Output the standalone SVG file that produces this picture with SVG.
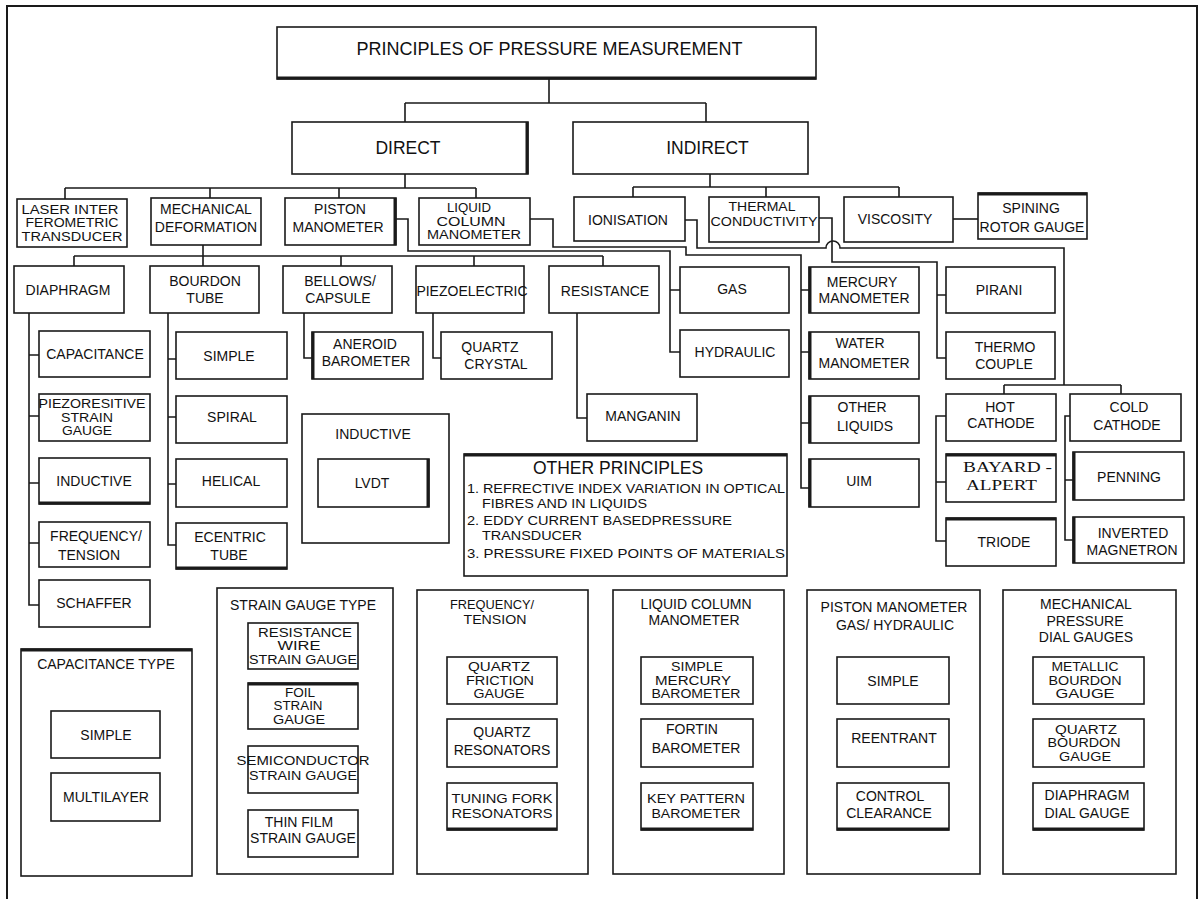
<svg xmlns="http://www.w3.org/2000/svg" width="1199" height="899" viewBox="0 0 1199 899">
<style>
.b{fill:#fff;stroke:#1a1a1a;stroke-width:1.6}
.c{fill:none;stroke:#1a1a1a;stroke-width:1.6}
.k{fill:none;stroke:#1a1a1a;stroke-width:3}
text{font-family:"Liberation Sans",Arial,sans-serif;font-size:14px;fill:#111;text-anchor:middle}
.big{font-size:18px}
.mid{font-size:17.5px}
.s{font-size:12px}
.m{font-size:13px}
.ser{font-family:"Liberation Serif","Times New Roman",serif;font-size:15.5px;text-anchor:start}
.l{text-anchor:start}
</style>
<rect x="0" y="0" width="1199" height="899" fill="#fff"/>
<rect x="7" y="6" width="1190" height="900" fill="none" stroke="#1a1a1a" stroke-width="2"/>

<g id="connectors">
<path class="c" d="M549,79V103M405,103H706M405,103V122M706,103V122"/>
<path class="c" d="M405,174V188M65,188H476M65,188V199M210,188V198M339,188V198M476,188V198"/>
<path class="c" d="M710,174V187M633,187H899M633,187V197M766,187V197M899,187V197"/>
<path class="c" d="M953,219H978"/>
<path class="c" d="M203,245V256M74,256H603M74,256V266M203,256V266M341,256V266M474,256V266M603,256V266"/>
<path class="c" d="M396,219H408V251H670V352H680M670,290H680"/>
<path class="c" d="M530,219H553V247H686V255H801V488H809M801,290H809M801,352H809M801,423H809"/>
<path class="c" d="M685,220H697V248H826A7,7 0 0 1 840,248H1064V385M1004,385H1121M1004,385V394M1121,385V394"/>
<path class="c" d="M819,218H832V262H937V358H946M937,295H946"/>
<path class="c" d="M29,313V605H39M29,355H39M29,416H39M29,483H39M29,543H39"/>
<path class="c" d="M168,313V545H176M168,359H176M168,417H176M168,484H176"/>
<path class="c" d="M304,313V358H312"/>
<path class="c" d="M433,313V358H441"/>
<path class="c" d="M577,313V418H587"/>
<path class="c" d="M946,416H936V541H946M936,482H946"/>
<path class="c" d="M1070,416H1065V540H1073M1065,480H1073"/>
</g>

<g id="n-title"><rect class="b" x="277" y="27" width="539" height="52"/><path class="k" d="M277,78H816"/><text class="big" x="549.5" y="55">PRINCIPLES OF PRESSURE MEASUREMENT</text></g>
<g id="n-direct"><rect class="b" x="292" y="122" width="236" height="52"/><path class="k" d="M527,122V174"/><text class="mid" x="408" y="154">DIRECT</text></g>
<g id="n-indirect"><rect class="b" x="573" y="122" width="235" height="52"/><text class="mid" x="707.5" y="154">INDIRECT</text></g>

<g id="n-laser"><rect class="b" x="17" y="199" width="110" height="48"/>
<text class="s" x="70" y="213.8" textLength="97" lengthAdjust="spacingAndGlyphs">LASER INTER</text>
<text class="s" x="72" y="227.3" textLength="93" lengthAdjust="spacingAndGlyphs">FEROMETRIC</text>
<text class="s" x="72" y="240.8" textLength="101" lengthAdjust="spacingAndGlyphs">TRANSDUCER</text></g>
<g id="n-mech"><rect class="b" x="151" y="198" width="110" height="47"/><text><tspan x="206" y="214">MECHANICAL</tspan><tspan x="206" y="232">DEFORMATION</tspan></text></g>
<g id="n-piston"><rect class="b" x="285" y="198" width="111" height="47"/><path class="k" d="M395,198V245"/><text><tspan x="340" y="214">PISTON</tspan><tspan x="338" y="232">MANOMETER</tspan></text></g>
<g id="n-liquid"><rect class="b" x="419" y="198" width="111" height="47"/>
<text class="s" x="469" y="212.3" textLength="44" lengthAdjust="spacingAndGlyphs">LIQUID</text>
<text class="s" x="471" y="225.8" textLength="69" lengthAdjust="spacingAndGlyphs">COLUMN</text>
<text class="s" x="474" y="239.3" textLength="94" lengthAdjust="spacingAndGlyphs">MANOMETER</text></g>
<g id="n-ionisation"><rect class="b" x="574" y="197" width="111" height="44"/><text x="628" y="225">IONISATION</text></g>
<g id="n-thermal"><rect class="b" x="709" y="197" width="110" height="45"/>
<text class="m" x="762" y="211.2" textLength="67" lengthAdjust="spacingAndGlyphs">THERMAL</text>
<text class="m" x="764" y="225.7" textLength="107" lengthAdjust="spacingAndGlyphs">CONDUCTIVITY</text></g>
<g id="n-viscosity"><rect class="b" x="844" y="197" width="109" height="45"/><text x="895" y="224">VISCOSITY</text></g>
<g id="n-spining"><rect class="b" x="978" y="193" width="109" height="46"/><path class="k" d="M978,194H1087"/><text><tspan x="1031" y="213">SPINING</tspan><tspan x="1032" y="232">ROTOR GAUGE</tspan></text></g>

<g id="n-diaphragm"><rect class="b" x="14" y="266" width="110" height="47"/><text x="68" y="295">DIAPHRAGM</text></g>
<g id="n-bourdon"><rect class="b" x="150" y="266" width="109" height="47"/><text><tspan x="205" y="286">BOURDON</tspan><tspan x="205" y="303">TUBE</tspan></text></g>
<g id="n-bellows"><rect class="b" x="283" y="266" width="109" height="47"/><text><tspan x="340" y="286">BELLOWS/</tspan><tspan x="338" y="303">CAPSULE</tspan></text></g>
<g id="n-piezo"><rect class="b" x="416" y="266" width="108" height="47"/><text x="472" y="296">PIEZOELECTRIC</text></g>
<g id="n-resistance"><rect class="b" x="549" y="266" width="110" height="47"/><text x="605" y="296">RESISTANCE</text></g>
<g id="n-gas"><rect class="b" x="680" y="267" width="109" height="46"/><text x="732" y="294">GAS</text></g>
<g id="n-mercury"><rect class="b" x="809" y="267" width="110" height="46"/><path class="k" d="M810,267V313"/><text><tspan x="862" y="287">MERCURY</tspan><tspan x="864" y="303">MANOMETER</tspan></text></g>
<g id="n-pirani"><rect class="b" x="946" y="267" width="109" height="46"/><text x="999" y="295">PIRANI</text></g>

<g id="n-capacitance"><rect class="b" x="39" y="331" width="111" height="46"/><text x="95" y="359">CAPACITANCE</text></g>
<g id="n-piezores"><rect class="b" x="39" y="394" width="111" height="47"/>
<text class="s" x="92" y="408.3" textLength="107" lengthAdjust="spacingAndGlyphs">PIEZORESITIVE</text>
<text class="s" x="87" y="421.8" textLength="52" lengthAdjust="spacingAndGlyphs">STRAIN</text>
<text class="s" x="87" y="435.3" textLength="50" lengthAdjust="spacingAndGlyphs">GAUGE</text></g>
<g id="n-inductive"><rect class="b" x="39" y="458" width="111" height="46"/><path class="k" d="M39,503H150"/><text x="94" y="486">INDUCTIVE</text></g>
<g id="n-frequency"><rect class="b" x="39" y="522" width="111" height="45"/><text><tspan x="96" y="541">FREQUENCY/</tspan><tspan x="89" y="560">TENSION</tspan></text></g>
<g id="n-schaffer"><rect class="b" x="39" y="580" width="111" height="47"/><text x="94" y="608">SCHAFFER</text></g>

<g id="n-simple"><rect class="b" x="176" y="332" width="111" height="47"/><text x="229" y="361">SIMPLE</text></g>
<g id="n-spiral"><rect class="b" x="176" y="396" width="111" height="47"/><text x="232" y="422">SPIRAL</text></g>
<g id="n-helical"><rect class="b" x="176" y="459" width="111" height="48"/><text x="231" y="486">HELICAL</text></g>
<g id="n-ecentric"><rect class="b" x="176" y="523" width="111" height="46"/><path class="k" d="M176,568H287"/><text><tspan x="230" y="542">ECENTRIC</tspan><tspan x="229" y="560">TUBE</tspan></text></g>
<g id="n-aneroid"><rect class="b" x="312" y="332" width="111" height="47"/><path class="k" d="M313,332V379"/><text><tspan x="365" y="349">ANEROID</tspan><tspan x="366" y="366">BAROMETER</tspan></text></g>
<g id="n-quartzcrystal"><rect class="b" x="441" y="332" width="111" height="47"/><text><tspan x="490" y="352">QUARTZ</tspan><tspan x="496" y="369">CRYSTAL</tspan></text></g>
<g id="n-manganin"><rect class="b" x="587" y="394" width="110" height="47"/><text x="643" y="421">MANGANIN</text></g>
<g id="n-hydraulic"><rect class="b" x="680" y="330" width="109" height="47"/><text x="735" y="357">HYDRAULIC</text></g>
<g id="n-water"><rect class="b" x="809" y="332" width="110" height="47"/><path class="k" d="M810,332V379"/><text><tspan x="860" y="348">WATER</tspan><tspan x="864" y="368">MANOMETER</tspan></text></g>
<g id="n-otherliq"><rect class="b" x="809" y="396" width="110" height="47"/><path class="k" d="M810,396V443"/><text><tspan x="862" y="412">OTHER</tspan><tspan x="865" y="431">LIQUIDS</tspan></text></g>
<g id="n-um"><rect class="b" x="809" y="459" width="110" height="48"/><path class="k" d="M810,459V507"/><text x="859" y="486">UIM</text></g>
<g id="n-thermo"><rect class="b" x="946" y="332" width="109" height="47"/><text><tspan x="1005" y="352">THERMO</tspan><tspan x="1004" y="369">COUPLE</tspan></text></g>
<g id="n-hot"><rect class="b" x="946" y="394" width="110" height="47"/><text><tspan x="1000" y="412">HOT</tspan><tspan x="1001" y="428">CATHODE</tspan></text></g>
<g id="n-cold"><rect class="b" x="1070" y="394" width="111" height="47"/><text><tspan x="1129" y="412">COLD</tspan><tspan x="1127" y="430">CATHODE</tspan></text></g>
<g id="n-bayard"><rect class="b" x="946" y="454" width="110" height="48"/><path class="k" d="M946,455H1056"/>
<text class="ser" x="963" y="472" textLength="89" lengthAdjust="spacingAndGlyphs">BAYARD -</text>
<text class="ser" x="966" y="490" textLength="71" lengthAdjust="spacingAndGlyphs">ALPERT</text></g>
<g id="n-triode"><rect class="b" x="946" y="518" width="110" height="48"/><path class="k" d="M946,519H1056"/><text x="1004" y="547">TRIODE</text></g>
<g id="n-penning"><rect class="b" x="1073" y="452" width="111" height="48"/><path class="k" d="M1074,452V500"/><text x="1129" y="482">PENNING</text></g>
<g id="n-inverted"><rect class="b" x="1073" y="517" width="111" height="46"/><path class="k" d="M1074,517V563"/><text><tspan x="1133" y="538">INVERTED</tspan><tspan x="1132" y="555">MAGNETRON</tspan></text></g>

<g id="n-inductive-box"><rect class="b" x="302" y="414" width="147" height="129"/><text x="373" y="439">INDUCTIVE</text>
<g id="n-lvdt"><rect class="b" x="318" y="459" width="111" height="48"/><path class="k" d="M428,459V507"/><text x="372" y="488">LVDT</text></g></g>

<g id="n-other"><rect class="b" x="464" y="454" width="323" height="122"/><path class="k" d="M464,455H787"/><text class="mid" x="618" y="474">OTHER PRINCIPLES</text>
<text class="m l" x="467" y="493" textLength="318" lengthAdjust="spacingAndGlyphs">1. REFRECTIVE INDEX VARIATION IN OPTICAL</text>
<text class="m l" x="482" y="508" textLength="165" lengthAdjust="spacingAndGlyphs">FIBRES AND IN LIQUIDS</text>
<text class="m l" x="467" y="525" textLength="265" lengthAdjust="spacingAndGlyphs">2. EDDY CURRENT BASEDPRESSURE</text>
<text class="m l" x="482" y="540" textLength="100" lengthAdjust="spacingAndGlyphs">TRANSDUCER</text>
<text class="m l" x="467" y="558" textLength="318" lengthAdjust="spacingAndGlyphs">3. PRESSURE FIXED POINTS OF MATERIALS</text></g>

<g id="n-captype"><rect class="b" x="21" y="649" width="171" height="227"/><path class="k" d="M21,650H192"/><text x="106" y="669">CAPACITANCE TYPE</text>
<rect class="b" x="51" y="711" width="109" height="47"/><text x="106" y="740">SIMPLE</text>
<rect class="b" x="51" y="773" width="109" height="48"/><text x="106" y="802">MULTILAYER</text></g>

<g id="n-straintype"><rect class="b" x="217" y="588" width="176" height="286"/><text x="303" y="610">STRAIN GAUGE TYPE</text>
<rect class="b" x="248" y="623" width="110" height="46"/>
<text class="s" x="305" y="636.8" textLength="94" lengthAdjust="spacingAndGlyphs">RESISTANCE</text>
<text class="s" x="299" y="650.3" textLength="43" lengthAdjust="spacingAndGlyphs">WIRE</text>
<text class="s" x="303" y="663.8" textLength="108" lengthAdjust="spacingAndGlyphs">STRAIN GAUGE</text>
<rect class="b" x="248" y="683" width="110" height="46"/><path class="k" d="M248,684H358"/>
<text class="s" x="300" y="696.8" textLength="30" lengthAdjust="spacingAndGlyphs">FOIL</text>
<text class="s" x="298" y="710.3" textLength="49" lengthAdjust="spacingAndGlyphs">STRAIN</text>
<text class="s" x="299" y="723.8" textLength="52" lengthAdjust="spacingAndGlyphs">GAUGE</text>
<rect class="b" x="248" y="746" width="110" height="47"/>
<text class="m" x="303" y="765.2" textLength="133" lengthAdjust="spacingAndGlyphs">SEMICONDUCTOR</text>
<text class="m" x="303" y="779.7" textLength="108" lengthAdjust="spacingAndGlyphs">STRAIN GAUGE</text>
<rect class="b" x="248" y="810" width="110" height="47"/><text><tspan x="299" y="827">THIN FILM</tspan><tspan x="303" y="843">STRAIN GAUGE</tspan></text></g>

<g id="n-freqtype"><rect class="b" x="417" y="590" width="171" height="284"/>
<text class="m" x="492" y="608.7" textLength="84" lengthAdjust="spacingAndGlyphs">FREQUENCY/</text>
<text class="m" x="495" y="623.7" textLength="63" lengthAdjust="spacingAndGlyphs">TENSION</text>
<rect class="b" x="447" y="657" width="110" height="47"/>
<text class="s" x="499" y="671.3" textLength="62" lengthAdjust="spacingAndGlyphs">QUARTZ</text>
<text class="s" x="500" y="684.8" textLength="68" lengthAdjust="spacingAndGlyphs">FRICTION</text>
<text class="s" x="499" y="698.3" textLength="51" lengthAdjust="spacingAndGlyphs">GAUGE</text>
<rect class="b" x="447" y="719" width="110" height="48"/><text><tspan x="502" y="737">QUARTZ</tspan><tspan x="502" y="755">RESONATORS</tspan></text>
<rect class="b" x="447" y="783" width="110" height="47"/><path class="k" d="M447,829H557"/>
<text class="m" x="502" y="802.7" textLength="101" lengthAdjust="spacingAndGlyphs">TUNING FORK</text>
<text class="m" x="502" y="817.7" textLength="101" lengthAdjust="spacingAndGlyphs">RESONATORS</text></g>

<g id="n-liqtype"><rect class="b" x="613" y="590" width="171" height="284"/><text><tspan x="696" y="609">LIQUID COLUMN</tspan><tspan x="694" y="625">MANOMETER</tspan></text>
<rect class="b" x="641" y="657" width="112" height="47"/>
<text class="s" x="697" y="671.3" textLength="52" lengthAdjust="spacingAndGlyphs">SIMPLE</text>
<text class="s" x="693" y="684.8" textLength="76" lengthAdjust="spacingAndGlyphs">MERCURY</text>
<text class="s" x="696" y="698.3" textLength="89" lengthAdjust="spacingAndGlyphs">BAROMETER</text>
<rect class="b" x="641" y="719" width="112" height="48"/><text><tspan x="692" y="734">FORTIN</tspan><tspan x="696" y="753">BAROMETER</tspan></text>
<rect class="b" x="641" y="783" width="112" height="47"/><path class="k" d="M641,829H753"/>
<text class="m" x="696" y="802.7" textLength="98" lengthAdjust="spacingAndGlyphs">KEY PATTERN</text>
<text class="m" x="696" y="817.7" textLength="89" lengthAdjust="spacingAndGlyphs">BAROMETER</text></g>

<g id="n-pistontype"><rect class="b" x="807" y="590" width="173" height="284"/><text><tspan x="894" y="612">PISTON MANOMETER</tspan><tspan x="895" y="630">GAS/ HYDRAULIC</tspan></text>
<rect class="b" x="837" y="657" width="112" height="47"/><text x="893" y="686">SIMPLE</text>
<rect class="b" x="837" y="719" width="112" height="48"/><text x="894" y="743">REENTRANT</text>
<rect class="b" x="837" y="783" width="112" height="47"/><path class="k" d="M837,829H949"/><text><tspan x="890" y="801">CONTROL</tspan><tspan x="889" y="818">CLEARANCE</tspan></text></g>

<g id="n-dialtype"><rect class="b" x="1003" y="590" width="173" height="284"/><text><tspan x="1086" y="609">MECHANICAL</tspan><tspan x="1085" y="626">PRESSURE</tspan><tspan x="1086" y="642">DIAL GAUGES</tspan></text>
<rect class="b" x="1033" y="657" width="111" height="47"/>
<text class="s" x="1085" y="671.3" textLength="67" lengthAdjust="spacingAndGlyphs">METALLIC</text>
<text class="s" x="1085" y="684.8" textLength="73" lengthAdjust="spacingAndGlyphs">BOURDON</text>
<text class="s" x="1085" y="698.3" textLength="59" lengthAdjust="spacingAndGlyphs">GAUGE</text>
<rect class="b" x="1033" y="719" width="111" height="48"/>
<text class="s" x="1086" y="733.8" textLength="62" lengthAdjust="spacingAndGlyphs">QUARTZ</text>
<text class="s" x="1084" y="747.3" textLength="73" lengthAdjust="spacingAndGlyphs">BOURDON</text>
<text class="s" x="1085" y="760.8" textLength="52" lengthAdjust="spacingAndGlyphs">GAUGE</text>
<rect class="b" x="1033" y="783" width="111" height="47"/><path class="k" d="M1033,829H1144"/><text><tspan x="1087" y="800">DIAPHRAGM</tspan><tspan x="1087" y="818">DIAL GAUGE</tspan></text></g>
</svg>
